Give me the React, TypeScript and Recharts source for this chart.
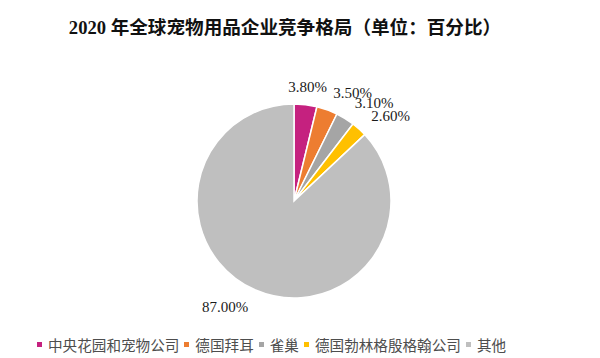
import { PieChart, Pie, Cell, Legend } from 'recharts';

// 2020 年全球宠物用品企业竞争格局
const COMPANIES = ['中央花园和宠物公司', '德国拜耳', '雀巢', '德国勃林格殷格翰公司', '其他'];
const SHARES = [3.8, 3.5, 3.1, 2.6, 87.0];
const COLORS = ['#C5217F', '#ED7D31', '#A5A5A5', '#FFC000', '#BFBFBF'];

const data = COMPANIES.map((name, i) => ({ name, value: SHARES[i] }));

const RADIAN = Math.PI / 180;

function renderLabel(props: any) {
  const { cx, cy, midAngle, outerRadius, value } = props;
  const r = outerRadius + 18;
  const cos = Math.cos(-midAngle * RADIAN);
  const x = cx + r * cos;
  const y = cy + r * Math.sin(-midAngle * RADIAN);
  const anchor = Math.abs(cos) < 0.2 ? 'middle' : cos > 0 ? 'start' : 'end';
  return (
    <text x={x} y={y} textAnchor={anchor} dominantBaseline="central" fill="#1a1a1a"
      style={{ fontFamily: '"Liberation Serif", "Times New Roman", serif', fontSize: 15 }}>
      {value.toFixed(2)}%
    </text>
  );
}

// legend keeps the series order (the payload comes sorted by name)
function renderLegend() {
  return (
    <div style={{ display: 'flex', alignItems: 'center', paddingLeft: 37, fontFamily: '"Noto Sans CJK SC", sans-serif', fontSize: 14.6, color: '#4d4d4d' }}>
      {COMPANIES.map((name, i) => (
        <div key={name} style={{ display: 'flex', alignItems: 'center', marginRight: 5 }}>
          <span style={{ width: 5, height: 5, backgroundColor: COLORS[i], marginRight: 6, display: 'inline-block' }} />
          <span>{name}</span>
        </div>
      ))}
    </div>
  );
}

export default function App() {
  return (
    <div style={{ position: 'absolute', left: 0, top: 0, width: 600, height: 358, background: '#fff' }}>
      <div style={{ position: 'absolute', top: 17, left: 0, width: 570, textAlign: 'center', fontWeight: 'bold', fontSize: 18.6, lineHeight: '22px', color: '#111', fontFamily: '"Liberation Serif", "Times New Roman", "Noto Sans CJK SC", serif' }}>
        2020 年全球宠物用品企业竞争格局（单位：百分比）
      </div>
      <PieChart width={600} height={358}>
        <Pie data={data} dataKey="value" nameKey="name" cx={289} cy={196} outerRadius={97}
          startAngle={90} endAngle={-270} stroke="#fff" strokeWidth={1.5}
          label={renderLabel} labelLine={false} isAnimationActive={false}>
          {data.map((_, i) => <Cell key={i} fill={COLORS[i]} />)}
        </Pie>
        <Legend content={renderLegend} wrapperStyle={{ left: 0, top: 334, width: 600 }} />
      </PieChart>
    </div>
  );
}
